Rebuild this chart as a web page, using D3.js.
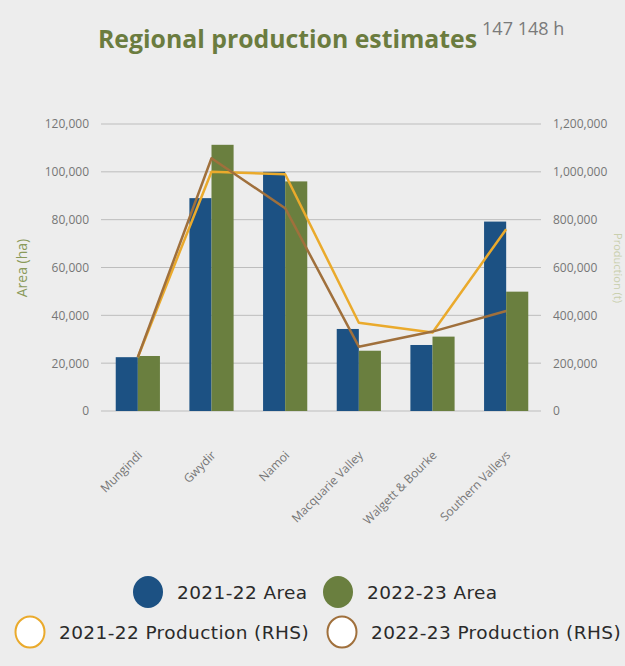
<!DOCTYPE html>
<html><head><meta charset="utf-8">
<script src="https://cdn.jsdelivr.net/npm/d3@7"></script>
<style>
html,body{margin:0;padding:0;background:#ededed;}
svg{display:block;}
</style></head>
<body>
<svg id="chart" width="625" height="666"></svg>
<script>
const categories = ["Mungindi","Gwydir","Namoi","Macquarie Valley","Walgett & Bourke","Southern Valleys"];
const area2122 = [22500, 89000, 100000, 34300, 27600, 79200];
const area2223 = [23000, 111300, 96000, 25200, 31100, 49900];
const prod2122 = [225000, 1000000, 990000, 369000, 328000, 760000];
const prod2223 = [225000, 1057000, 848000, 269000, 332000, 418000];
const leftTicks = [0,20000,40000,60000,80000,100000,120000];
const rightTicks = [0,200000,400000,600000,800000,1000000,1200000];

const C = {blue:"#1c5183", green:"#6a7f3f", yellow:"#eaaa2c", brown:"#a0703c", grid:"#bdbdbd", tick:"#767676", olive:"#8a9a5a"};
const svg = d3.select("#chart");
svg.append("rect").attr("width",625).attr("height",666).attr("fill","#ededed");

const x0 = 101, x1 = 543, yTop = 124, yBot = 411;
const x = d3.scaleBand().domain(categories).range([x0,x1]).paddingInner(0.4).paddingOuter(0.2);
const xb = d3.scaleBand().domain(["a","b"]).range([0,x.bandwidth()]);
const yL = d3.scaleLinear().domain([0,120000]).range([yBot,yTop]);
const yR = d3.scaleLinear().domain([0,1200000]).range([yBot,yTop]);
const fmt = d3.format(",");

// gridlines
svg.append("g").selectAll("line").data(leftTicks).join("line")
  .attr("x1",101).attr("x2",541).attr("y1",d=>yL(d)).attr("y2",d=>yL(d))
  .attr("stroke",C.grid).attr("stroke-width",1);

// left axis labels
const axL = svg.append("g").attr("transform","translate(101,0)")
  .call(d3.axisLeft(yL).tickValues(leftTicks).tickFormat(fmt).tickSize(0).tickPadding(12));
axL.select(".domain").remove();
axL.selectAll("text").attr("font-family","Open Sans, sans-serif").attr("font-size",12).attr("fill",C.tick);

const axR = svg.append("g").attr("transform","translate(541,0)")
  .call(d3.axisRight(yR).tickValues(rightTicks).tickFormat(fmt).tickSize(0).tickPadding(12));
axR.select(".domain").remove();
axR.selectAll("text").attr("font-family","Open Sans, sans-serif").attr("font-size",12).attr("fill",C.tick);

// bars
const bars = svg.append("g");
bars.selectAll("rect.a").data(categories).join("rect").attr("class","a")
  .attr("x",d=>x(d)+xb("a")).attr("width",xb.bandwidth())
  .attr("y",(d,i)=>yL(area2122[i])).attr("height",(d,i)=>yBot-yL(area2122[i]))
  .attr("fill",C.blue);
bars.selectAll("rect.b").data(categories).join("rect").attr("class","b")
  .attr("x",d=>x(d)+xb("b")).attr("width",xb.bandwidth())
  .attr("y",(d,i)=>yL(area2223[i])).attr("height",(d,i)=>yBot-yL(area2223[i]))
  .attr("fill",C.green);

// lines
const line = d3.line().x(d=>x(d[0])+x.bandwidth()/2).y(d=>yR(d[1]));
svg.append("path").datum(categories.map((c,i)=>[c,prod2122[i]]))
  .attr("d",line).attr("fill","none").attr("stroke",C.yellow).attr("stroke-width",2.5).attr("stroke-linejoin","round");
svg.append("path").datum(categories.map((c,i)=>[c,prod2223[i]]))
  .attr("d",line).attr("fill","none").attr("stroke",C.brown).attr("stroke-width",2.5).attr("stroke-linejoin","round");

// x labels
svg.append("g").selectAll("text").data(categories).join("text")
  .attr("transform",d=>`translate(${x(d)+x.bandwidth()/2+5},${yBot+45}) rotate(-45)`)
  .attr("text-anchor","end").attr("font-family","Open Sans, sans-serif").attr("font-size",12).attr("fill",C.tick)
  .text(d=>d);

// axis titles
svg.append("text").attr("transform","translate(27,268) rotate(-90)").attr("text-anchor","middle")
  .attr("font-family","Open Sans, sans-serif").attr("font-size",14).attr("fill",C.olive).text("Area (ha)");
svg.append("text").attr("transform","translate(614,268) rotate(90)").attr("text-anchor","middle")
  .attr("font-family","Open Sans, sans-serif").attr("font-size",11).attr("fill","#c9cfae").text("Production (t)");

// title
const title = svg.append("text").attr("x",98).attr("y",48).attr("font-family","Open Sans, sans-serif");
title.append("tspan").attr("font-size",24.8).attr("font-weight","bold").attr("fill","#6b7c3f").text("Regional production estimates");
title.append("tspan").attr("dx",5).attr("dy",-13).attr("font-size",18).attr("fill","#7a7a7a").text("147 148 h");

// legend
const legend = [
  {label:"2021-22 Area", fill:C.blue, stroke:C.blue, cx:148, cy:592},
  {label:"2022-23 Area", fill:C.green, stroke:C.green, cx:338, cy:592},
  {label:"2021-22 Production (RHS)", fill:"#ffffff", stroke:C.yellow, cx:30, cy:632},
  {label:"2022-23 Production (RHS)", fill:"#ffffff", stroke:C.brown, cx:342, cy:632}
];
const lg = svg.append("g").selectAll("g").data(legend).join("g");
lg.append("ellipse").attr("cx",d=>d.cx).attr("cy",d=>d.cy).attr("rx",d=>d.fill==="#ffffff"?14.5:15).attr("ry",d=>d.fill==="#ffffff"?15.5:16)
  .attr("fill",d=>d.fill).attr("stroke",d=>d.stroke).attr("stroke-width",d=>d.fill==="#ffffff"?2:0);
lg.append("text").attr("x",d=>d.cx+29).attr("y",d=>d.cy+6.5)
  .attr("font-family","DejaVu Sans, sans-serif").attr("font-size",18.5).attr("letter-spacing",0.4).attr("fill","#2a2a2a").text(d=>d.label);
</script>
</body></html>
